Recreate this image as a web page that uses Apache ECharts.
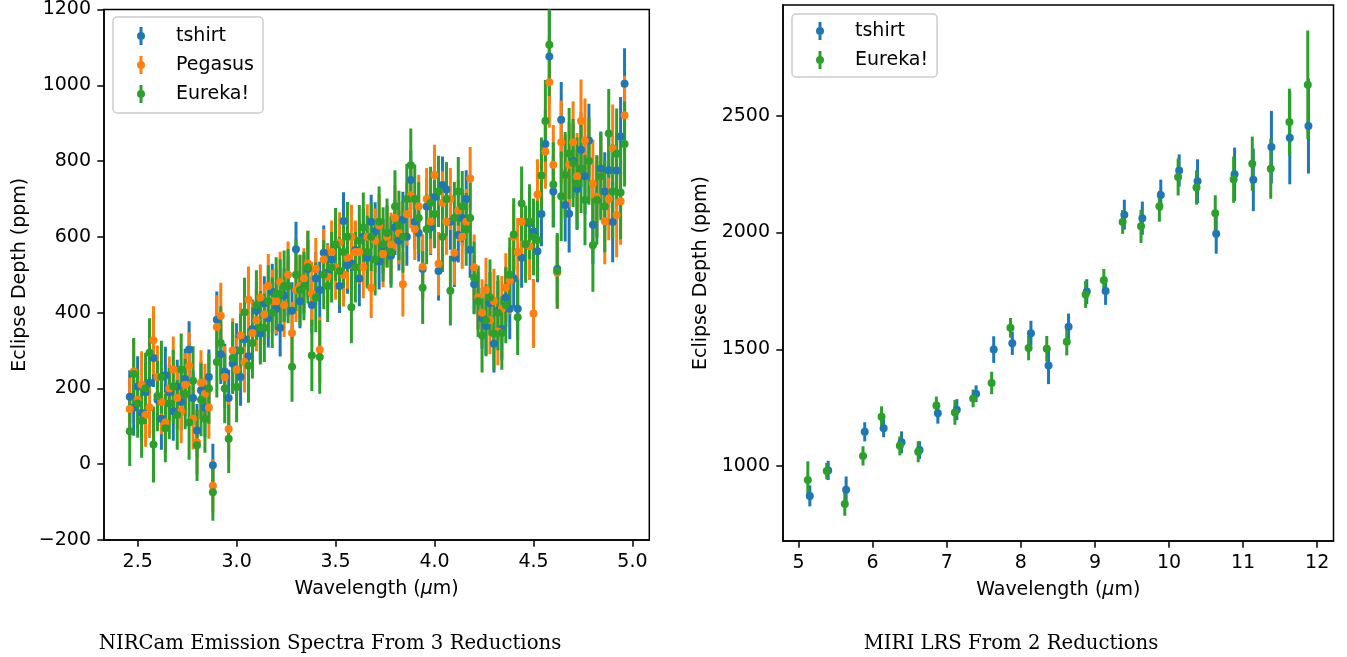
<!DOCTYPE html>
<html>
<head>
<meta charset="utf-8">
<script src="https://cdn.jsdelivr.net/npm/echarts@6/dist/echarts.min.js"></script>
<style>
  html, body { margin: 0; padding: 0; background: #fff; }
  #chart { width: 1347px; height: 657px; }
</style>
</head>
<body>
<div id="chart"></div>
<script>
// ---- NIRCam emission spectrum (ppm), three reductions on one wavelength grid (µm) ----
const nircamWave = [
  2.46,2.48,2.50,2.52,2.54,2.56,2.58,2.60,2.62,2.64,2.66,2.68,2.70,2.72,2.74,2.76,2.78,2.80,2.82,2.84,
  2.86,2.88,2.90,2.92,2.94,2.96,2.98,3.00,3.02,3.04,3.06,3.08,3.10,3.12,3.14,3.16,3.18,3.20,3.22,3.24,
  3.26,3.28,3.30,3.32,3.34,3.36,3.38,3.40,3.42,3.44,3.46,3.48,3.50,3.52,3.54,3.56,3.58,3.60,3.62,3.64,
  3.66,3.68,3.70,3.72,3.74,3.76,3.78,3.80,3.82,3.84,3.86,3.88,3.90,3.92,3.94,3.96,3.98,4.00,4.02,4.04,
  4.06,4.08,4.10,4.12,4.14,4.16,4.18,4.20,4.22,4.24,4.26,4.28,4.30,4.32,4.34,4.36,4.38,4.40,4.42,4.44,
  4.46,4.48,4.50,4.52,4.54,4.56,4.58,4.60,4.62,4.64,4.66,4.68,4.70,4.72,4.74,4.76,4.78,4.80,4.82,4.84,
  4.86,4.88,4.90,4.92,4.94,4.96
];
const nircamTshirt = [
  178,150,205,135,190,215,280,170,120,235, 190,140,205,165,225,303,175,89,195,150,
  230,-3,381,290,245,175,265,300,230,330, 285,357,405,345,425,385,455,410,360,445,
  470,405,567,430,475,515,420,490,460,558, 505,540,580,470,642,525,530,565,490,600,
  545,640,615,535,575,605,550,625,590,645, 600,750,640,610,515,680,625,705,510,737,
  725,640,545,605,650,700,566,475,431,385, 365,425,318,405,357,440,410,490,410,545,
  580,636,614,562,660,845,1076,720,515,909, 684,661,800,726,830,760,854,632,700,780,
  720,776,639,775,865,1004
];
const nircamTshirtErr = [
  70,75,80,72,78,74,76,70,82,75, 73,78,71,77,80,74,72,70,76,79,
  73,57,75,78,72,74,77,72,76,70, 74,78,73,75,71,77,74,70,76,72,
  78,75,73,71,77,74,76,70,75,72, 78,74,73,71,76,75,72,74,73,75,
  78,71,76,74,72,77,75,73,79,74, 76,78,72,75,77,74,73,76,78,75,
  72,74,77,73,75,76,74,78,75,80, 77,82,76,79,81,78,80,77,83,79,
  81,84,80,82,85,90,125,95,90,100, 96,102,98,105,99,101,97,104,100,98,
  103,99,106,101,104,94
];
const nircamPegasus = [
  146,245,170,210,130,150,327,230,165,110, 200,250,175,140,210,260,120,58,215,185,
  150,-57,362,392,230,93,300,250,340,270, 434,346,380,440,395,470,430,430,480,420,
  500,346,460,470,490,530,450,515,302,540, 495,560,520,585,500,545,600,560,560,520,
  600,466,590,630,555,600,580,650,610,475, 660,710,620,680,521,700,640,763,529,690,
  640,700,558,670,600,640,754,520,440,400, 460,380,430,350,410,466,484,600,560,640,
  580,575,398,712,762,825,1008,790,505,850, 763,790,850,760,906,854,800,741,706,760,
  641,700,833,658,694,921
];
const nircamPegasusErr = [
  82,85,80,88,84,81,90,83,86,80, 84,87,82,85,83,88,81,84,86,80,
  83,70,84,87,82,80,85,83,86,81, 88,84,82,87,80,85,83,86,81,84,
  88,82,85,83,80,86,84,82,87,81, 85,83,86,80,84,82,85,83,84,82,
  86,80,85,83,88,81,84,86,82,85, 83,87,81,84,86,82,85,80,84,83,
  87,82,85,81,84,86,83,86,84,88, 85,90,86,89,87,91,88,86,90,88,
  92,89,91,93,90,98,120,105,95,110, 106,112,108,114,109,111,107,115,110,108,
  113,109,116,112,115,104
];
const nircamEureka = [
  87,238,160,115,200,294,52,180,230,95, 160,205,130,250,185,110,220,50,170,120,
  200,-74,270,320,200,67,280,204,300,401, 260,320,420,360,360,430,400,450,450,470,
  470,257,500,460,470,520,287,440,283,500, 470,520,580,510,560,600,414,520,590,625,
  560,600,540,640,580,610,560,680,630,600, 700,789,700,650,466,620,690,660,720,600,
  700,458,650,720,680,620,650,492,430,340, 380,440,345,400,346,420,500,606,388,688,
  581,640,600,592,762,906,1107,738,510,707, 763,820,795,740,780,697,800,578,697,760,
  680,873,720,819,717,845
];
const nircamEurekaErr = [
  92,95,90,98,94,91,100,93,96,90, 94,97,92,95,93,98,91,94,96,90,
  93,75,94,97,92,90,95,93,96,91, 98,94,92,97,90,95,93,96,91,94,
  98,92,95,93,90,96,94,92,97,91, 95,93,96,90,94,92,95,93,94,92,
  96,90,95,93,98,91,94,96,92,95, 93,97,91,94,96,92,95,90,94,93,
  97,92,95,91,94,96,93,96,94,98, 95,100,96,99,97,101,98,96,100,98,
  102,99,101,103,100,108,135,112,100,118, 114,120,116,122,117,119,115,123,118,116,
  121,117,124,120,123,112
];

// ---- MIRI LRS spectrum (ppm), two reductions ----
const miriTshirtWave = [5.152,5.40,5.642,5.893,6.148,6.39,6.633,6.88,7.136,7.396,7.634,7.885,8.136,8.374,
  8.644,8.89,9.144,9.397,9.64,9.889,10.137,10.385,10.637,10.885,11.138,11.382,11.63,11.882];
const miriTshirt = [873,982,899,1147,1162,1102,1069,1227,1242,1310,1499,1526,1569,1431,
  1597,1747,1750,2076,2061,2160,2265,2219,1994,2249,2225,2365,2405,2455];
const miriTshirtErr = [45,41,57,41,38,47,38,45,45,36,57,50,53,80,56,53,60,64,71,66,69,94,85,114,134,155,199,203];
const miriEurekaWave = [5.125,5.38,5.624,5.87,6.12,6.367,6.615,6.86,7.11,7.356,7.606,7.86,8.105,8.35,
  8.62,8.874,9.12,9.374,9.622,9.87,10.123,10.371,10.624,10.872,11.124,11.373,11.625,11.873];
const miriEureka = [941,979,838,1044,1212,1087,1062,1260,1230,1290,1356,1592,1506,1502,
  1532,1735,1795,2045,2026,2112,2237,2192,2082,2226,2294,2272,2472,2632];
const miriEurekaErr = [80,35,50,41,44,41,45,38,53,38,48,42,53,55,58,58,49,51,71,66,79,73,77,99,116,128,143,232];

// ---- axis ticks ----
const nircamTicksX = [2.5, 3.0, 3.5, 4.0, 4.5, 5.0];
const miriTicksX = [5, 6, 7, 8, 9, 10, 11, 12];
const miriTicksY = [1000, 1500, 2000, 2500];

const COLORS = { tshirt: '#1f77b4', Pegasus: '#ff7f0e', 'Eureka!': '#2ca02c' };
const FONT = 'DejaVu Sans';
// errorbar-style legend glyph: vertical bar with a dot in the middle
const ERR_ICON = 'path://M2.5,0 L5.5,0 L5.5,18 L2.5,18 Z M0,9 A4,4 0 1 1 8,9 A4,4 0 1 1 0,9 Z';

function rows(wave, val, err) {
  return wave.map((w, i) => [w, val[i], err[i]]);
}

function barSeries(name, data, gi) {
  const color = COLORS[name];
  return {
    type: 'custom', name, xAxisIndex: gi, yAxisIndex: gi, data, clip: true, z: 2, silent: true,
    itemStyle: { color },
    encode: { x: 0, y: 1 },
    renderItem(params, api) {
      const x = api.value(0), y = api.value(1), e = api.value(2);
      const a = api.coord([x, y - e]);
      const b = api.coord([x, y + e]);
      return {
        type: 'line',
        shape: { x1: a[0], y1: a[1], x2: b[0], y2: b[1] },
        style: { stroke: color, lineWidth: 3 }
      };
    }
  };
}

function dotSeries(name, data, gi) {
  const color = COLORS[name];
  return {
    type: 'scatter', name, xAxisIndex: gi, yAxisIndex: gi, silent: true, z: 3,
    data: data.map(d => [d[0], d[1]]),
    symbol: 'circle', symbolSize: 8,
    itemStyle: { color, opacity: 1 }
  };
}

const nTs = rows(nircamWave, nircamTshirt, nircamTshirtErr);
const nPg = rows(nircamWave, nircamPegasus, nircamPegasusErr);
const nEu = rows(nircamWave, nircamEureka, nircamEurekaErr);
const mTs = rows(miriTshirtWave, miriTshirt, miriTshirtErr);
const mEu = rows(miriEurekaWave, miriEureka, miriEurekaErr);

const labelStyle = { fontFamily: FONT, fontSize: 19, color: '#000' };
const tickStyle = { show: true, inside: false, length: 6.7, lineStyle: { color: '#000', width: 1.5 } };
const lineStyle = { show: true, onZero: false, lineStyle: { color: '#000', width: 1.5 } };
const nameStyle = {
  fontFamily: FONT, fontSize: 19, color: '#000',
  rich: { i: { fontFamily: FONT, fontSize: 19, fontStyle: 'italic', color: '#000' } }
};
const minus = v => (v < 0 ? '\u2212' + Math.abs(v) : String(v));

function legendBox(names, left, top, padV) {
  return {
    data: names, orient: 'vertical', left, top,
    padding: [padV, 9, padV, 24],
    itemWidth: 8, itemHeight: 18, itemGap: 10,
    icon: ERR_ICON, selectedMode: false,
    backgroundColor: 'rgba(255,255,255,0.8)',
    borderColor: '#cccccc', borderWidth: 1.5, borderRadius: 4,
    textStyle: { fontFamily: FONT, fontSize: 19, color: '#000', lineHeight: 18, padding: [0, 0, 0, 26] }
  };
}

const option = {
  animation: false,
  backgroundColor: '#fff',
  grid: [
    { left: 104, right: 697.7, top: 9, bottom: 117, show: true, borderColor: '#000', borderWidth: 1.5 },
    { left: 783, right: 13.5, top: 5, bottom: 116, show: true, borderColor: '#000', borderWidth: 1.5 }
  ],
  xAxis: [
    {
      gridIndex: 0, type: 'value', min: 2.33, max: 5.085,
      axisLine: lineStyle,
      splitLine: { show: false },
      axisTick: Object.assign({ customValues: nircamTicksX }, tickStyle),
      axisLabel: Object.assign({ customValues: nircamTicksX, margin: 13, formatter: v => v.toFixed(1) }, labelStyle),
      name: 'Wavelength ({i|\u03bc}m)', nameLocation: 'middle', nameGap: 40, nameTextStyle: nameStyle
    },
    {
      gridIndex: 1, type: 'value', min: 4.79, max: 12.22,
      axisLine: lineStyle,
      splitLine: { show: false },
      axisTick: Object.assign({ customValues: miriTicksX }, tickStyle),
      axisLabel: Object.assign({ customValues: miriTicksX, margin: 13, formatter: v => String(v) }, labelStyle),
      name: 'Wavelength ({i|\u03bc}m)', nameLocation: 'middle', nameGap: 40, nameTextStyle: nameStyle
    }
  ],
  yAxis: [
    {
      gridIndex: 0, type: 'value', min: -200, max: 1200, interval: 200,
      axisLine: lineStyle,
      splitLine: { show: false },
      axisTick: tickStyle,
      axisLabel: Object.assign({ margin: 13, formatter: minus }, labelStyle),
      name: 'Eclipse Depth (ppm)', nameLocation: 'middle', nameGap: 74, nameTextStyle: nameStyle
    },
    {
      gridIndex: 1, type: 'value', min: 680, max: 2973,
      axisLine: lineStyle,
      splitLine: { show: false },
      axisTick: Object.assign({ customValues: miriTicksY }, tickStyle),
      axisLabel: Object.assign({ customValues: miriTicksY, margin: 13, formatter: v => String(v) }, labelStyle),
      name: 'Eclipse Depth (ppm)', nameLocation: 'middle', nameGap: 72, nameTextStyle: nameStyle
    }
  ],
  legend: [
    legendBox(['tshirt', 'Pegasus', 'Eureka!'], 113, 17, 9.5),
    legendBox(['tshirt', 'Eureka!'], 792, 14, 7.5)
  ],
  graphic: [
    { type: 'text', x: 330, y: 644, silent: true,
      style: { text: 'NIRCam Emission Spectra From 3 Reductions', fill: '#000',
               font: '19.7px "DejaVu Serif"', textAlign: 'center', textVerticalAlign: 'middle' } },
    { type: 'text', x: 1011, y: 644, silent: true,
      style: { text: 'MIRI LRS From 2 Reductions', fill: '#000',
               font: '19.7px "DejaVu Serif"', textAlign: 'center', textVerticalAlign: 'middle' } }
  ],
  series: [
    // all error bars first, then all markers on top
    barSeries('tshirt', nTs, 0),
    barSeries('Pegasus', nPg, 0),
    barSeries('Eureka!', nEu, 0),
    barSeries('tshirt', mTs, 1),
    barSeries('Eureka!', mEu, 1),
    dotSeries('tshirt', nTs, 0),
    dotSeries('Pegasus', nPg, 0),
    dotSeries('Eureka!', nEu, 0),
    dotSeries('tshirt', mTs, 1),
    dotSeries('Eureka!', mEu, 1)
  ]
};

const chart = echarts.init(document.getElementById('chart'), null, { renderer: 'canvas' });
chart.setOption(option);
</script>
</body>
</html>
